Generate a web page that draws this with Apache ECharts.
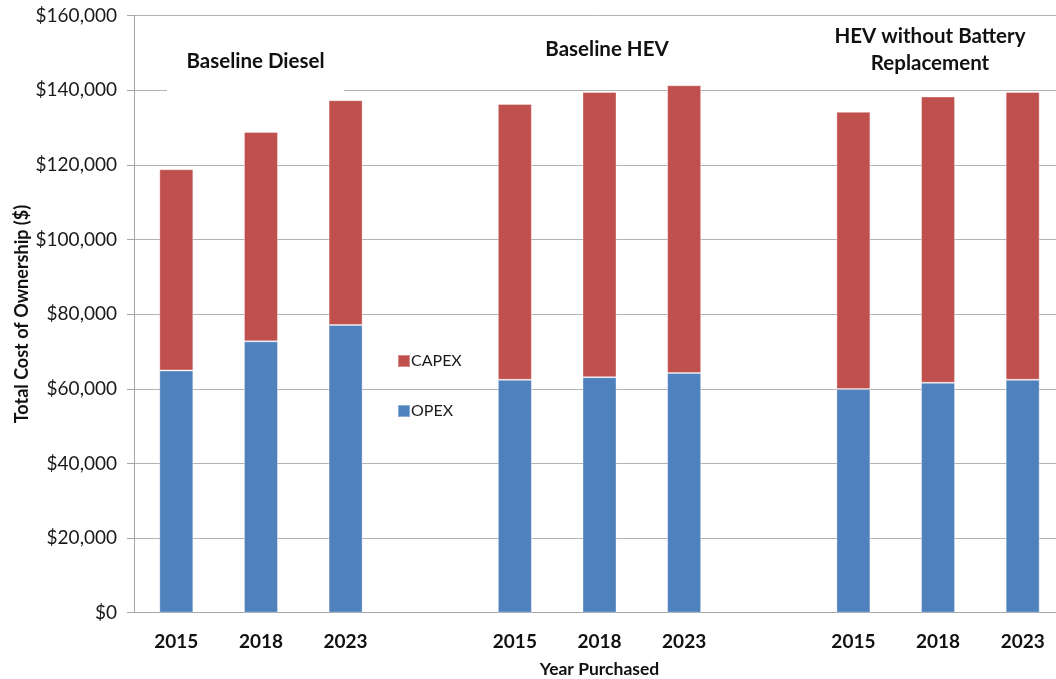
<!DOCTYPE html>
<html>
<head>
<meta charset="utf-8">
<script src="https://cdn.jsdelivr.net/npm/echarts@6/dist/echarts.min.js"></script>
<style>
  html, body { margin: 0; padding: 0; background: #fff; }
  #chart { width: 1056px; height: 679px; }
</style>
</head>
<body>
<div id="chart"></div>
<script>
// Purchase years, with blank slots separating the three scenarios
const categories = ['2015', '2018', '2023', '', '2015', '2018', '2023', '', '2015', '2018', '2023'];

// Operating cost (OPEX) per purchase year, $
const opex = [64900, 72700, 77100, null, 62400, 63100, 64200, null, 59900, 61600, 62400];

// Capital cost (CAPEX) per purchase year, $
const capex = [53900, 56100, 60200, null, 73900, 76400, 77100, null, 74300, 76700, 77100];

// Y axis ticks
const yTicks = [0, 20000, 40000, 60000, 80000, 100000, 120000, 140000, 160000];

// Scenario headings
const scenarios = ['Baseline Diesel', 'Baseline HEV', 'HEV without Battery\nReplacement'];

const FONT = 'Lato';
const fmtMoney = v => '$' + v.toLocaleString('en-US');

const chart = echarts.init(document.getElementById('chart'), null, { renderer: 'canvas' });

chart.setOption({
  animation: false,
  backgroundColor: '#fff',
  textStyle: { fontFamily: FONT },
  grid: {
    left: 134, right: -9, top: 15.5, bottom: 66.3,
    containLabel: false,
    outerBoundsMode: 'none'
  },
  legend: {
    orient: 'vertical',
    left: 392, top: 348,
    itemWidth: 12, itemHeight: 12,
    itemGap: 34,
    icon: 'rect',
    data: ['CAPEX', 'OPEX'],
    textStyle: { fontFamily: FONT, fontSize: 16, color: '#1a1a1a', padding: [0, 0, 0, -4] }
  },
  xAxis: {
    type: 'category',
    data: categories,
    axisTick: { show: false },
    axisLine: { lineStyle: { color: '#a6a6a6', width: 1 } },
    axisLabel: {
      interval: 0, margin: 20,
      fontFamily: FONT, fontSize: 19, fontWeight: 'bold', color: '#111'
    },
    name: 'Year Purchased',
    nameLocation: 'middle',
    nameGap: 48,
    nameTextStyle: { fontFamily: FONT, fontSize: 17.5, fontWeight: 'bold', color: '#111' }
  },
  yAxis: {
    type: 'value',
    min: yTicks[0], max: yTicks[yTicks.length - 1], interval: yTicks[1] - yTicks[0],
    axisLine: { show: true, lineStyle: { color: '#a6a6a6', width: 1 } },
    axisTick: { show: true, length: 7, lineStyle: { color: '#a6a6a6' } },
    splitLine: { lineStyle: { color: '#b3b3b3', width: 1 } },
    axisLabel: {
      margin: 17,
      formatter: fmtMoney,
      fontFamily: FONT, fontSize: 19, color: '#1a1a1a'
    },
    name: 'Total Cost of Ownership ($)',
    nameLocation: 'middle',
    nameRotate: 90,
    nameGap: 103,
    nameMoveOverlap: false,
    nameTextStyle: { fontFamily: FONT, fontSize: 18, fontWeight: 'bold', color: '#111' }
  },
  series: [
    {
      name: 'OPEX', type: 'bar', stack: 'tco', data: opex,
      barWidth: 34,
      itemStyle: { color: '#4F81BD', borderColor: 'rgba(255,255,255,0.35)', borderWidth: 1 }
    },
    {
      name: 'CAPEX', type: 'bar', stack: 'tco', data: capex,
      barWidth: 34,
      itemStyle: { color: '#C0504D', borderColor: 'rgba(255,255,255,0.35)', borderWidth: 1 }
    }
  ],
  graphic: [
    // white panel behind the first heading, interrupting the gridline
    { type: 'rect', z: 50, shape: { x: 167, y: 38, width: 177, height: 55 }, style: { fill: '#fff' } },
    {
      type: 'text', z: 60, x: 255.5, y: 61,
      style: { text: scenarios[0], align: 'center', verticalAlign: 'middle',
               font: 'bold 20.5px ' + FONT, fill: '#111' }
    },
    {
      type: 'text', z: 60, x: 607, y: 49,
      style: { text: scenarios[1], align: 'center', verticalAlign: 'middle',
               font: 'bold 20.5px ' + FONT, fill: '#111' }
    },
    {
      type: 'text', z: 60, x: 930, y: 50,
      style: { text: scenarios[2], align: 'center', verticalAlign: 'middle',
               font: 'bold 20.5px ' + FONT, lineHeight: 27, fill: '#111' }
    }
  ]
});
</script>
</body>
</html>
